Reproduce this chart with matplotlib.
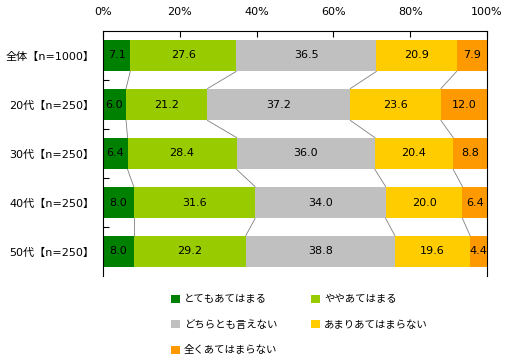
import matplotlib
matplotlib.use("Agg")
import matplotlib.pyplot as plt
from matplotlib.patches import Patch
import numpy as np

plt.rcParams['font.family'] = ['DejaVu Sans', 'Noto Sans CJK JP']

categories = ["全体【n=1000】", "20代【n=250】", "30代【n=250】", "40代【n=250】", "50代【n=250】"]
series_names = ["とてもあてはまる", "ややあてはまる", "どちらとも言えない", "あまりあてはまらない", "全くあてはまらない"]
very = [7.1, 6.0, 6.4, 8.0, 8.0]
somewhat = [27.6, 21.2, 28.4, 31.6, 29.2]
neutral = [36.5, 37.2, 36.0, 34.0, 38.8]
not_much = [20.9, 23.6, 20.4, 20.0, 19.6]
not_at_all = [7.9, 12.0, 8.8, 6.4, 4.4]
xtick_labels = ["0%", "20%", "40%", "60%", "80%", "100%"]

colors = ["#008000", "#99CC00", "#C0C0C0", "#FFCC00", "#FF9900"]
data = np.array([very, somewhat, neutral, not_much, not_at_all])

fig = plt.figure(figsize=(5.12, 3.62), dpi=100)
ax = fig.add_axes([103/512, 1-276/362, 384/512, 245/362])

y = np.arange(len(categories))
h = 0.65
left = np.zeros(len(categories))
handles = []
for k in range(len(series_names)):
    ax.barh(y, data[k], left=left, height=h, color=colors[k], edgecolor='none')
    for i in range(len(categories)):
        ax.text(left[i] + data[k][i] / 2, y[i], f"{data[k][i]:.1f}", ha='center', va='center',
                fontsize=8, color='black')
    left = left + data[k]
    handles.append(Patch(facecolor=colors[k], edgecolor='none', label=series_names[k]))

cum = np.cumsum(data, axis=0)
for k in range(len(series_names) - 1):
    for i in range(len(categories) - 1):
        ax.plot([cum[k][i], cum[k][i + 1]], [y[i] + h / 2, y[i + 1] - h / 2],
                color='#808080', lw=0.6)

ax.set_xlim(0, 100)
ax.set_ylim(len(categories) - 0.5, -0.5)
ax.xaxis.tick_top()
ax.set_xticks([0, 20, 40, 60, 80, 100])
ax.set_xticklabels(xtick_labels, fontsize=8)
ax.tick_params(axis='x', direction='in', length=4, pad=10, width=0.8)
ax.set_yticks(y)
ax.set_yticklabels(categories, fontsize=8)
ax.tick_params(axis='y', which='major', length=0, pad=6)
ax.set_yticks(np.arange(0.5, len(categories) - 1, 1), minor=True)
ax.tick_params(axis='y', which='minor', direction='in', length=4, width=0.8)
ax.spines['bottom'].set_visible(False)
for s in ['top', 'left', 'right']:
    ax.spines[s].set_linewidth(0.8)

order = [0, 2, 4, 1, 3]
fig.legend([handles[i] for i in order], [series_names[i] for i in order],
           loc='upper left', bbox_to_anchor=(167/512, 1-290/362), ncol=2, frameon=False,
           fontsize=7.5, handlelength=0.8, handleheight=0.8, handletextpad=0.4,
           columnspacing=3.3, labelspacing=1.5, borderaxespad=0)

fig.savefig("out.png", dpi=100)
